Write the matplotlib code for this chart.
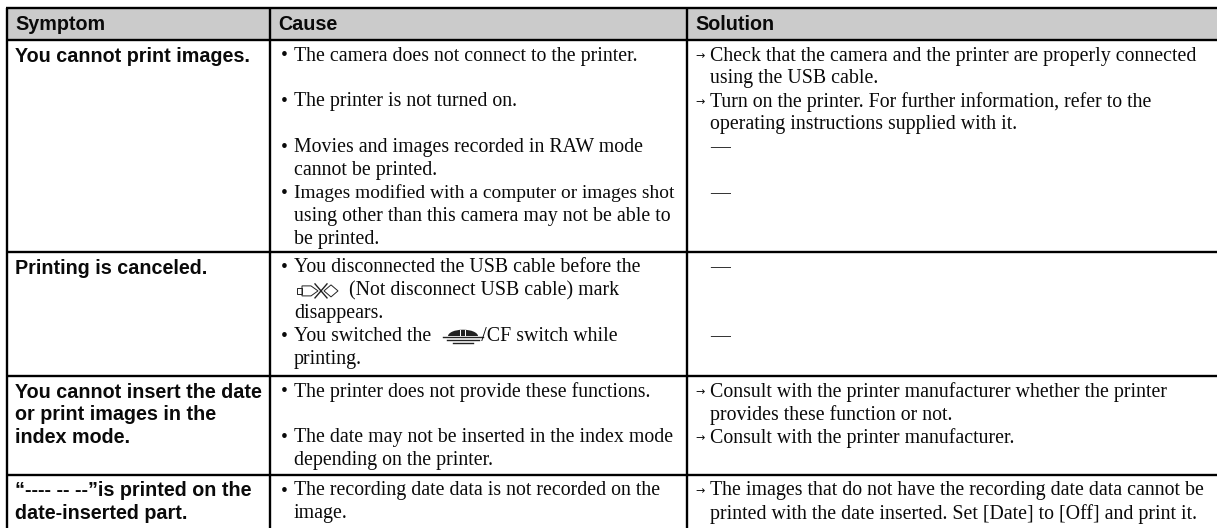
import matplotlib
matplotlib.use("Agg")
import matplotlib.pyplot as plt
from matplotlib.patches import Rectangle, Polygon, Ellipse

headers = ["Symptom", "Cause", "Solution"]

symptoms = [
    ["You cannot print images."],
    ["Printing is canceled."],
    ["You cannot insert the date", "or print images in the", "index mode."],
    ["\u201c---- -- --\u201dis printed on the", "date-inserted part."],
]

causes = [
    ["\u2022The camera does not connect to the printer.", "",
     "\u2022The printer is not turned on.", "",
     "\u2022Movies and images recorded in RAW mode", "cannot be printed.",
     "\u2022Images modified with a computer or images shot",
     "using other than this camera may not be able to", "be printed."],
    ["\u2022You disconnected the USB cable before the",
     "           (Not disconnect USB cable) mark", "disappears.",
     "\u2022You switched the          /CF switch while", "printing."],
    ["\u2022The printer does not provide these functions.", "",
     "\u2022The date may not be inserted in the index mode", "depending on the printer."],
    ["\u2022The recording date data is not recorded on the", "image."],
]

solutions = [
    ["\u2192Check that the camera and the printer are properly connected",
     "using the USB cable.",
     "\u2192Turn on the printer. For further information, refer to the",
     "operating instructions supplied with it.",
     "\u2014", "", "\u2014"],
    ["\u2014", "", "", "\u2014"],
    ["\u2192Consult with the printer manufacturer whether the printer",
     "provides these function or not.",
     "\u2192Consult with the printer manufacturer."],
    ["\u2192The images that do not have the recording date data cannot be",
     "printed with the date inserted. Set [Date] to [Off] and print it."],
]

# ---- layout, in pixels ----
W, H = 1217, 528
col_x = [7, 270, 687, 1217]
row_y = [40, 252, 376, 475]
table_top = 8
first_offset = 16
line_h = 22.9

fig = plt.figure(figsize=(W / 100, H / 100), dpi=100, facecolor="white")
ax = fig.add_axes([0, 0, 1, 1])
ax.set_xlim(0, W)
ax.set_ylim(H, 0)
ax.axis("off")

ax.add_patch(Rectangle((col_x[0], table_top), W - col_x[0], row_y[0] - table_top,
                       facecolor="#cbcbcb", edgecolor="none", zorder=0))

lw = 1.7
for y in [table_top] + row_y:
    ax.plot([col_x[0] - 1, W], [y, y], color="black", lw=lw, solid_capstyle="butt")
for x in col_x[:3]:
    ax.plot([x, x], [table_top, H], color="black", lw=lw, solid_capstyle="butt")

SANS = "Liberation Sans"
SERIF = "Liberation Serif"
SANS_SIZE = 14.2
SERIF_SIZE = 14.3
TIGHT_SIZE = 13.95  # the one line set tighter in the reference
INK = "#0a0a0a"

for i, h in enumerate(headers):
    ax.text(col_x[i] + 8, 24.5, h, family=SANS, weight="bold", fontsize=SANS_SIZE,
            color=INK, va="center", ha="left")


def put_lines(lines, x_mark, x_text, y0, mark_family, mark_size):
    for k, s in enumerate(lines):
        if not s:
            continue
        y = y0 + k * line_h
        if s[0] in "\u2022\u2192":
            ax.text(x_mark, y, s[0], family=mark_family, fontsize=mark_size,
                    color=INK, va="center", ha="left")
            s = s[1:]
        size = TIGHT_SIZE if s.startswith("Images modified") else SERIF_SIZE
        ax.text(x_text, y, s, family=SERIF, fontsize=size, color=INK,
                va="center", ha="left")


for r in range(4):
    y0 = row_y[r] + first_offset
    for k, s in enumerate(symptoms[r]):
        ax.text(col_x[0] + 8, y0 + k * line_h, s, family=SANS, weight="bold",
                fontsize=SANS_SIZE, color=INK, va="center", ha="left")
    put_lines(causes[r], col_x[1] + 11, col_x[1] + 24, y0, SERIF, 14)
    put_lines(solutions[r], col_x[2] + 8, col_x[2] + 23, y0, "DejaVu Sans", 8)

# USB "do not disconnect" icon
uy = row_y[1] + first_offset + line_h
ic = "#222222"
ax.add_patch(Rectangle((297, uy - 3), 5, 6, fill=False, ec=ic, lw=0.7))
ax.add_patch(Polygon([(302, uy - 5), (311, uy - 5), (318, uy), (311, uy + 5), (302, uy + 5)],
                     fill=False, ec=ic, lw=0.7))
ax.plot([315, 327], [uy - 7, uy + 7], color=ic, lw=1.0)
ax.plot([315, 327], [uy + 7, uy - 7], color=ic, lw=1.0)
ax.add_patch(Polygon([(331, uy - 6), (338, uy), (331, uy + 6), (324, uy)],
                     fill=False, ec=ic, lw=0.7))

# Memory Stick icon
my = row_y[1] + first_offset + 3 * line_h
ax.add_patch(Ellipse((463, my - 0.5), 30, 13, fc=ic, ec="none"))
ax.add_patch(Rectangle((445, my - 0.5), 36, 8, fc="white", ec="none"))
ax.add_patch(Rectangle((459.5, my - 7), 1.3, 7, fc="white", ec="none"))
ax.add_patch(Rectangle((465, my - 7), 1.3, 7, fc="white", ec="none"))
ax.plot([443, 483], [my, my], color=ic, lw=1.0)
ax.plot([447, 479], [my + 3, my + 3], color=ic, lw=1.0)
ax.plot([453, 473], [my + 6, my + 6], color=ic, lw=1.0)

fig.savefig("out.png", dpi=100, facecolor="white")
